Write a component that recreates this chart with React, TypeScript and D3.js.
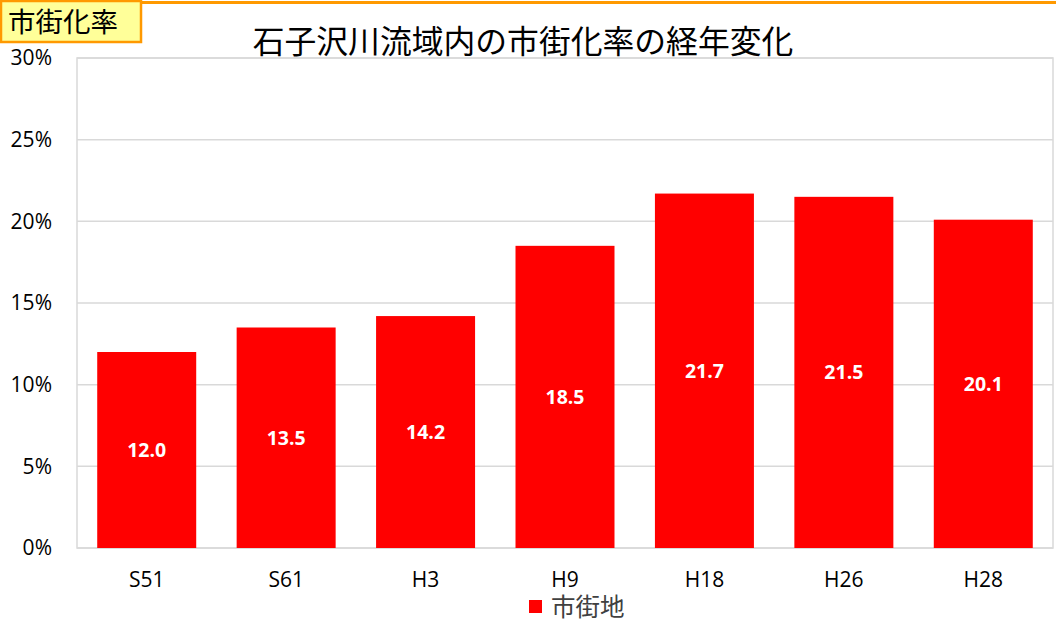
import React from "react";
import * as d3 from "d3";

const categories = ["S51", "S61", "H3", "H9", "H18", "H26", "H28"];
const values = [12.0, 13.5, 14.2, 18.5, 21.7, 21.5, 20.1];
const yTicks = [0, 5, 10, 15, 20, 25, 30];
const title = "石子沢川流域内の市街化率の経年変化";
const boxLabel = "市街化率";
const seriesName = "市街地";

const W = 1056;
const H = 628;
const plot = { left: 77, right: 1053, top: 58, bottom: 548 };
const latin = "'Open Sans', 'Noto Sans', sans-serif";
const cjk = "'Noto Sans CJK JP', sans-serif";

export default function App() {
  const x = d3
    .scaleBand<string>()
    .domain(categories)
    .range([plot.left, plot.right])
    .paddingInner(0.29)
    .paddingOuter(0.145);
  const y = d3.scaleLinear().domain([0, 30]).range([plot.bottom, plot.top]);

  return (
    <svg
      width={W}
      height={H}
      style={{ position: "absolute", left: 0, top: 0, background: "#fff" }}
    >
      <rect x={0} y={0} width={W} height={H} fill="#fff" />
      {/* orange top line */}
      <rect x={0} y={1} width={W} height={3} fill="#FF9900" />
      {/* gridlines */}
      {yTicks.map((t) => (
        <line
          key={t}
          x1={plot.left}
          x2={plot.right}
          y1={y(t)}
          y2={y(t)}
          stroke="#d9d9d9"
          strokeWidth={1.5}
        />
      ))}
      {/* plot border */}
      <rect
        x={plot.left}
        y={plot.top}
        width={plot.right - plot.left}
        height={plot.bottom - plot.top}
        fill="none"
        stroke="#d9d9d9"
        strokeWidth={1.5}
      />
      {/* bars */}
      {categories.map((c, i) => (
        <rect
          key={c}
          x={x(c)}
          y={y(values[i])}
          width={x.bandwidth()}
          height={y(0) - y(values[i])}
          fill="#FF0000"
        />
      ))}
      {/* data labels */}
      {categories.map((c, i) => (
        <text
          key={c}
          x={(x(c) as number) + x.bandwidth() / 2}
          y={(y(values[i]) + y(0)) / 2}
          dy="0.35em"
          textAnchor="middle"
          fill="#fff"
          fontWeight="bold"
          fontSize={19.5}
          fontFamily={latin}
        >
          {values[i].toFixed(1)}
        </text>
      ))}
      {/* y tick labels */}
      {yTicks.map((t) => (
        <text
          key={t}
          x={52}
          y={y(t)}
          dy="0.35em"
          textAnchor="end"
          fill="#000"
          fontSize={21}
          fontFamily={latin}
        >
          {t}%
        </text>
      ))}
      {/* x labels */}
      {categories.map((c) => (
        <text
          key={c}
          x={(x(c) as number) + x.bandwidth() / 2}
          y={580}
          dy="0.35em"
          textAnchor="middle"
          fill="#000"
          fontSize={21}
          fontFamily={latin}
        >
          {c}
        </text>
      ))}
      {/* title */}
      <text
        x={523}
        y={42}
        dy="0.35em"
        textAnchor="middle"
        fill="#000"
        fontSize={31.8}
        fontFamily={cjk}
      >
        {title}
      </text>
      {/* legend */}
      <rect x={529} y={600} width={13} height={13} fill="#FF0000" />
      <text
        x={551}
        y={607}
        dy="0.35em"
        fill="#404040"
        fontSize={24.5}
        fontFamily={cjk}
      >
        {seriesName}
      </text>
      {/* label box */}
      <rect
        x={1}
        y={1}
        width={140}
        height={41}
        fill="#FFFF99"
        stroke="#FF9900"
        strokeWidth={2.5}
      />
      <text
        x={8}
        y={22}
        dy="0.35em"
        fill="#000"
        fontSize={27.5}
        fontFamily={cjk}
      >
        {boxLabel}
      </text>
    </svg>
  );
}
